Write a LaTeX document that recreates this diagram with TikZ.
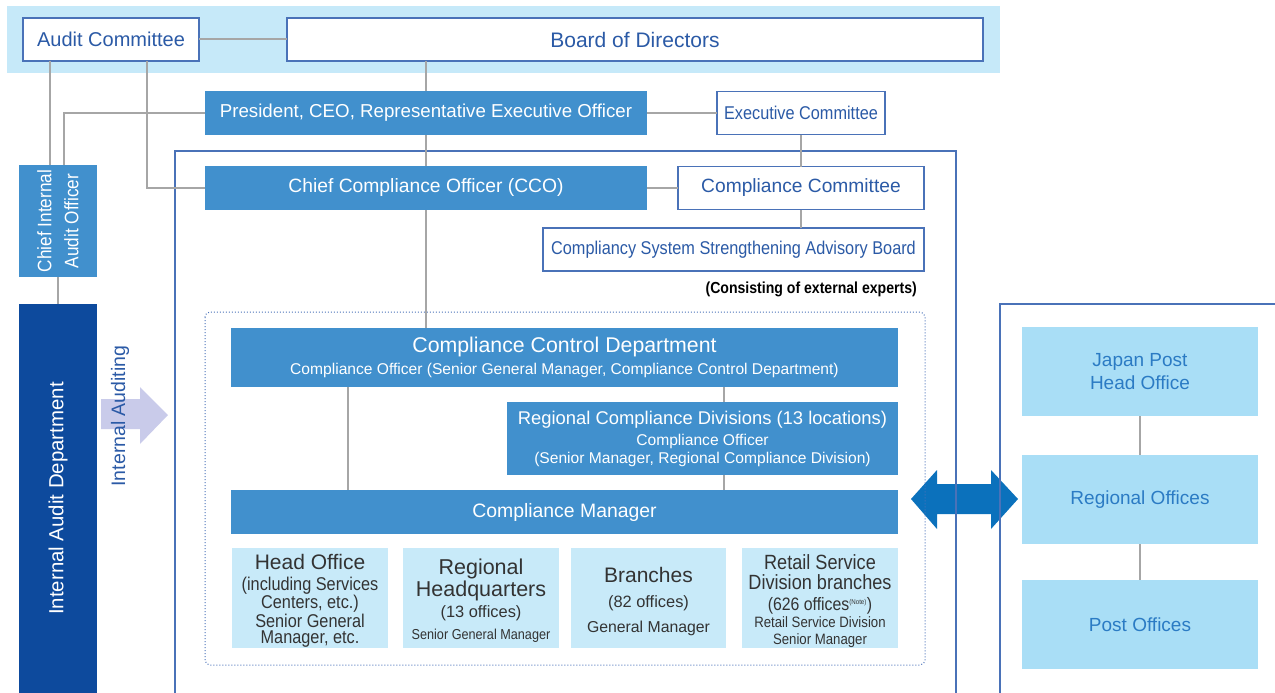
\documentclass[tikz,border=0pt]{standalone}
\usepackage{fontspec}
\setmainfont{Liberation Sans}
\newfontfamily\nf[FakeStretch=0.88]{Liberation Sans}
\usetikzlibrary{calc}
\definecolor{tblue}{HTML}{2B5AA6}
\definecolor{bord}{HTML}{4A72B8}
\definecolor{mblue}{HTML}{4190CD}
\definecolor{dblue}{HTML}{0D4A9D}
\definecolor{band}{HTML}{C6E9F9}
\definecolor{lbox}{HTML}{C8EAF9}
\definecolor{rbox}{HTML}{A9DEF6}
\definecolor{rtext}{HTML}{2B7BC4}
\definecolor{gtext}{HTML}{333333}
\definecolor{lgray}{HTML}{A6A6A6}
\definecolor{lav}{HTML}{C9CBEA}
\definecolor{ablue}{HTML}{0B71BC}
\newcommand\myfs[2]{\fontsize{#1}{#2}\selectfont}
\newcommand\topstrut{\rule{0pt}{21pt}}
\tikzset{
  wbox/.style={draw=bord, fill=white, line width=1.3pt, text=tblue, inner sep=0pt, outer sep=0pt},
  bbox/.style={fill=mblue, text=white, inner sep=0pt, outer sep=0pt, align=center},
  lbx/.style={fill=lbox, text=gtext, inner sep=0pt, outer sep=0pt, align=center, minimum height=100pt},
  rbx/.style={fill=rbox, text=rtext, inner sep=0pt, outer sep=0pt, align=center, minimum width=236pt, minimum height=89pt, font=\myfs{19}{23}},
  conn/.style={draw=lgray, line width=2pt},
  frame/.style={draw=bord, line width=1.3pt}
}
\begin{document}
\begin{tikzpicture}[x=1pt,y=-1pt]
\useasboundingbox (0,0) rectangle (1275,693);
% top band
\fill[band] (7,6) rectangle (1000,73);
% double arrow
\fill[ablue] (911,499) -- (937,470) -- (937,484) -- (991,484) -- (991,470) -- (1018,499)
  -- (991,529) -- (991,514) -- (937,514) -- (937,529) -- cycle;
% frames
\draw[frame] (175,151) rectangle (956,700);
\draw[frame] (1000,304) rectangle (1290,700);
\draw[bord, line width=1pt, dotted, rounded corners=5pt] (205,312) rectangle (925,665);
% internal auditing arrow
\fill[lav] (101,399) -- (140,399) -- (140,387) -- (168,415) -- (140,444) -- (140,429) -- (101,429) -- cycle;
\node[rotate=90, text=tblue, font=\myfs{19.5}{22}, inner sep=0pt] (ia) at (120,416) {Internal Auditing};

% nodes
\node[wbox, minimum width=176pt, minimum height=43pt, font=\myfs{20}{22}] (ac) at (111,39.5) {Audit Committee};
\node[wbox, minimum width=696pt, minimum height=43pt, font=\myfs{21}{23}] (bod) at (635,39.5) {Board of Directors};
\node[bbox, minimum width=442pt, minimum height=44pt, font=\myfs{18.7}{22}] (pres) at (426,113) {President, CEO, Representative Executive Officer};
\node[wbox, minimum width=168pt, minimum height=43pt, font=\nf\myfs{18.5}{22}] (exec) at (801,113) {Executive Committee};
\node[bbox, minimum width=442pt, minimum height=44pt, font=\myfs{19.3}{22}] (cco) at (426,188) {Chief Compliance Officer (CCO)};
\node[wbox, minimum width=246pt, minimum height=43pt, font=\myfs{19.2}{22}] (cc) at (801,188) {Compliance Committee};
\node[wbox, minimum width=381pt, minimum height=43pt, font=\nf\myfs{18.5}{22}] (adv) at (733.5,249.5) {Compliancy System Strengthening Advisory Board};
\node[anchor=east, inner sep=0pt, font=\nf\bfseries\myfs{16}{18}, text=black] (ext) at (917,289) {(Consisting of external experts)};

\node[bbox, minimum width=78pt, minimum height=112pt] (ciao) at (58,221) {};
\node[rotate=90, text=white, align=center, inner sep=0pt, font=\nf\myfs{19.5}{27}] at (ciao.center) {Chief Internal\\Audit Officer};
\node[fill=dblue, text=white, inner sep=0pt, minimum width=78pt, minimum height=389pt] (iad) at (58,498.5) {};
\node[rotate=90, text=white, inner sep=0pt, font=\myfs{20.4}{22}] at (iad.center) {Internal Audit Department};

\node[bbox, minimum width=667pt, minimum height=59pt, font=\myfs{15.6}{22}] (ccd) at (564.5,357.5)
  {{\myfs{21.3}{23}Compliance Control Department}\\{\myfs{15.6}{17}Compliance Officer (Senior General Manager, Compliance Control Department)}};
\node[bbox, minimum width=391pt, minimum height=73pt, font=\myfs{15.6}{18}] (rcd) at (702.5,438.5)
  {{\myfs{18.4}{20}Regional Compliance Divisions (13 locations)}\\[3pt]{\myfs{15.6}{17}Compliance Officer}\\{\myfs{15.6}{17}(Senior Manager, Regional Compliance Division)}};
\node[bbox, minimum width=667pt, minimum height=44pt, font=\myfs{19.4}{22}] (cm) at (564.5,512) {Compliance Manager};

\node[lbx, minimum width=156pt, font=\myfs{16}{18}] (ho) at (310,598)
  {{\myfs{21}{21}\topstrut Head Office}\\[3pt]{\nf\myfs{18.5}{19}(including Services}\\{\nf\myfs{18.5}{19}Centers, etc.)}\\[1pt]{\nf\myfs{18.5}{18}Senior General}\\[-2pt]{\nf\myfs{18.5}{17}Manager, etc.}};
\node[lbx, minimum width=156pt, font=\myfs{16}{22}] (rh) at (481,598)
  {{\myfs{21.5}{23}\topstrut Regional}\\{\myfs{21.5}{23}Headquarters}\\[-1pt]{\myfs{16.4}{19}(13 offices)}\\{\nf\myfs{14.4}{17}Senior General Manager}};
\node[lbx, minimum width=155pt, font=\myfs{16}{25}] (br) at (648.5,598)
  {{\myfs{21}{23}\rule{0pt}{23pt}Branches}\\{\myfs{16.4}{20}(82 offices)}\\{\myfs{15.8}{18}General Manager}};
\node[lbx, minimum width=156pt, font=\myfs{16}{17}] (rs) at (820,598)
  {{\nf\myfs{20.6}{20}\topstrut Retail Service}\\[3pt]{\nf\myfs{20.6}{20}Division branches}\\[4pt]{\nf\myfs{18}{19}(626 offices\textsuperscript{\myfs{7}{8}(Note)})}\\{\nf\myfs{15}{17}Retail Service Division}\\{\nf\myfs{15}{17}Senior Manager}};

\node[rbx] (jp) at (1140,371.5) {Japan Post\\Head Office};
\node[rbx] (ro) at (1140,499.5) {Regional Offices};
\node[rbx] (po) at (1140,624.5) {Post Offices};

% connectors
\draw[conn] (ac.east) -- (bod.west);
\draw[conn] (pres.north |- bod.south) -- (pres.north);
\draw[conn] (pres.south) -- (cco.north);
\draw[conn] (cco.south) -- (cco.south |- ccd.north);
\draw[conn] (pres.east) -- (exec.west);
\draw[conn] (exec.south) -- (cc.north);
\draw[conn] (cco.east) -- (cc.west);
\draw[conn] (cc.south) -- (cc.south |- adv.north);
\draw[conn] ([xshift=27pt]ac.south west) -- ([xshift=27pt]ac.south west |- ciao.north);
\draw[conn] ([xshift=124pt]ac.south west) |- (cco.west);
\draw[conn] (pres.west) -| ([xshift=6pt]ciao.north);
\draw[conn] (ciao.south) -- (iad.north);
\draw[conn] ([xshift=117pt]ccd.south west) -- ([xshift=117pt]ccd.south west |- cm.north);
\draw[conn] ([xshift=21.5pt]rcd.north |- ccd.south) -- ([xshift=21.5pt]rcd.north);
\draw[conn] ([xshift=21.5pt]rcd.south) -- ([xshift=21.5pt]rcd.south |- cm.north);
\draw[conn] (jp.south) -- (ro.north);
\draw[conn] (ro.south) -- (po.north);
\end{tikzpicture}
\end{document}
